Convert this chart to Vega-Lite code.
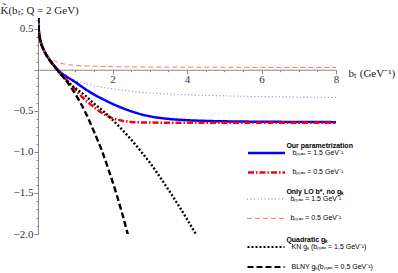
{
  "$schema": "https://vega.github.io/schema/vega-lite/v6.json",
  "width": 298,
  "height": 216,
  "autosize": {"type": "none"},
  "padding": {"left": 38, "top": 18, "right": 62, "bottom": 39},
  "background": "white",
  "config": {
    "view": {"stroke": null},
    "axis": {"grid": false, "domainColor": "#888888", "tickColor": "#888888", "labelColor": "#333333", "labelFont": "Liberation Serif", "labelFontSize": 11, "titleFont": "Liberation Serif", "titleFontSize": 11, "titleFontWeight": "normal", "titleColor": "#222222"},
    "legend": {"orient": "none", "symbolType": "stroke", "symbolSize": 1369, "clipHeight": 9, "titlePadding": 0, "labelOffset": 6, "padding": 0, "labelFont": "Liberation Sans", "labelFontSize": 7, "labelColor": "black", "titleFont": "Liberation Sans", "titleFontSize": 7, "titleFontWeight": "bold", "titleColor": "black", "titleLimit": 300, "labelLimit": 300}
  },
  "datasets": {
    "param": [
      {"series": "bₘₐₓ = 1.5 GeV⁻¹", "b": 0.004, "K": 0.645},
      {"series": "bₘₐₓ = 1.5 GeV⁻¹", "b": 0.01, "K": 0.56},
      {"series": "bₘₐₓ = 1.5 GeV⁻¹", "b": 0.02, "K": 0.49},
      {"series": "bₘₐₓ = 1.5 GeV⁻¹", "b": 0.04, "K": 0.41},
      {"series": "bₘₐₓ = 1.5 GeV⁻¹", "b": 0.07, "K": 0.345},
      {"series": "bₘₐₓ = 1.5 GeV⁻¹", "b": 0.1, "K": 0.3},
      {"series": "bₘₐₓ = 1.5 GeV⁻¹", "b": 0.15, "K": 0.245},
      {"series": "bₘₐₓ = 1.5 GeV⁻¹", "b": 0.2, "K": 0.2},
      {"series": "bₘₐₓ = 1.5 GeV⁻¹", "b": 0.3, "K": 0.13},
      {"series": "bₘₐₓ = 1.5 GeV⁻¹", "b": 0.4, "K": 0.07},
      {"series": "bₘₐₓ = 1.5 GeV⁻¹", "b": 0.5, "K": 0.015},
      {"series": "bₘₐₓ = 1.5 GeV⁻¹", "b": 0.6, "K": -0.03},
      {"series": "bₘₐₓ = 1.5 GeV⁻¹", "b": 0.75, "K": -0.078},
      {"series": "bₘₐₓ = 1.5 GeV⁻¹", "b": 1.0, "K": -0.15},
      {"series": "bₘₐₓ = 1.5 GeV⁻¹", "b": 1.25, "K": -0.23},
      {"series": "bₘₐₓ = 1.5 GeV⁻¹", "b": 1.5, "K": -0.3},
      {"series": "bₘₐₓ = 1.5 GeV⁻¹", "b": 1.75, "K": -0.36},
      {"series": "bₘₐₓ = 1.5 GeV⁻¹", "b": 2.0, "K": -0.415},
      {"series": "bₘₐₓ = 1.5 GeV⁻¹", "b": 2.25, "K": -0.463},
      {"series": "bₘₐₓ = 1.5 GeV⁻¹", "b": 2.5, "K": -0.505},
      {"series": "bₘₐₓ = 1.5 GeV⁻¹", "b": 2.75, "K": -0.54},
      {"series": "bₘₐₓ = 1.5 GeV⁻¹", "b": 3.0, "K": -0.567},
      {"series": "bₘₐₓ = 1.5 GeV⁻¹", "b": 3.5, "K": -0.598},
      {"series": "bₘₐₓ = 1.5 GeV⁻¹", "b": 4.0, "K": -0.614},
      {"series": "bₘₐₓ = 1.5 GeV⁻¹", "b": 4.5, "K": -0.623},
      {"series": "bₘₐₓ = 1.5 GeV⁻¹", "b": 5.0, "K": -0.628},
      {"series": "bₘₐₓ = 1.5 GeV⁻¹", "b": 6.0, "K": -0.633},
      {"series": "bₘₐₓ = 1.5 GeV⁻¹", "b": 7.0, "K": -0.636},
      {"series": "bₘₐₓ = 1.5 GeV⁻¹", "b": 8.0, "K": -0.638},
      {"series": "bₘₐₓ = 0.5 GeV⁻¹", "b": 0.004, "K": 0.645},
      {"series": "bₘₐₓ = 0.5 GeV⁻¹", "b": 0.01, "K": 0.56},
      {"series": "bₘₐₓ = 0.5 GeV⁻¹", "b": 0.02, "K": 0.49},
      {"series": "bₘₐₓ = 0.5 GeV⁻¹", "b": 0.04, "K": 0.41},
      {"series": "bₘₐₓ = 0.5 GeV⁻¹", "b": 0.07, "K": 0.345},
      {"series": "bₘₐₓ = 0.5 GeV⁻¹", "b": 0.1, "K": 0.3},
      {"series": "bₘₐₓ = 0.5 GeV⁻¹", "b": 0.15, "K": 0.245},
      {"series": "bₘₐₓ = 0.5 GeV⁻¹", "b": 0.2, "K": 0.2},
      {"series": "bₘₐₓ = 0.5 GeV⁻¹", "b": 0.3, "K": 0.13},
      {"series": "bₘₐₓ = 0.5 GeV⁻¹", "b": 0.4, "K": 0.065},
      {"series": "bₘₐₓ = 0.5 GeV⁻¹", "b": 0.5, "K": 0.01},
      {"series": "bₘₐₓ = 0.5 GeV⁻¹", "b": 0.6, "K": -0.04},
      {"series": "bₘₐₓ = 0.5 GeV⁻¹", "b": 0.77, "K": -0.125},
      {"series": "bₘₐₓ = 0.5 GeV⁻¹", "b": 1.0, "K": -0.24},
      {"series": "bₘₐₓ = 0.5 GeV⁻¹", "b": 1.17, "K": -0.325},
      {"series": "bₘₐₓ = 0.5 GeV⁻¹", "b": 1.35, "K": -0.4},
      {"series": "bₘₐₓ = 0.5 GeV⁻¹", "b": 1.53, "K": -0.465},
      {"series": "bₘₐₓ = 0.5 GeV⁻¹", "b": 1.75, "K": -0.535},
      {"series": "bₘₐₓ = 0.5 GeV⁻¹", "b": 2.0, "K": -0.59},
      {"series": "bₘₐₓ = 0.5 GeV⁻¹", "b": 2.25, "K": -0.62},
      {"series": "bₘₐₓ = 0.5 GeV⁻¹", "b": 2.5, "K": -0.635},
      {"series": "bₘₐₓ = 0.5 GeV⁻¹", "b": 2.87, "K": -0.642},
      {"series": "bₘₐₓ = 0.5 GeV⁻¹", "b": 3.5, "K": -0.645},
      {"series": "bₘₐₓ = 0.5 GeV⁻¹", "b": 5.0, "K": -0.646},
      {"series": "bₘₐₓ = 0.5 GeV⁻¹", "b": 8.0, "K": -0.646}
    ],
    "lo": [
      {"series": "bₘₐₓ = 1.5 GeV⁻¹", "b": 0.004, "K": 0.645},
      {"series": "bₘₐₓ = 1.5 GeV⁻¹", "b": 0.01, "K": 0.56},
      {"series": "bₘₐₓ = 1.5 GeV⁻¹", "b": 0.02, "K": 0.49},
      {"series": "bₘₐₓ = 1.5 GeV⁻¹", "b": 0.04, "K": 0.41},
      {"series": "bₘₐₓ = 1.5 GeV⁻¹", "b": 0.07, "K": 0.345},
      {"series": "bₘₐₓ = 1.5 GeV⁻¹", "b": 0.1, "K": 0.3},
      {"series": "bₘₐₓ = 1.5 GeV⁻¹", "b": 0.15, "K": 0.245},
      {"series": "bₘₐₓ = 1.5 GeV⁻¹", "b": 0.2, "K": 0.2},
      {"series": "bₘₐₓ = 1.5 GeV⁻¹", "b": 0.3, "K": 0.135},
      {"series": "bₘₐₓ = 1.5 GeV⁻¹", "b": 0.4, "K": 0.08},
      {"series": "bₘₐₓ = 1.5 GeV⁻¹", "b": 0.5, "K": 0.03},
      {"series": "bₘₐₓ = 1.5 GeV⁻¹", "b": 0.6, "K": -0.015},
      {"series": "bₘₐₓ = 1.5 GeV⁻¹", "b": 0.72, "K": -0.06},
      {"series": "bₘₐₓ = 1.5 GeV⁻¹", "b": 0.85, "K": -0.095},
      {"series": "bₘₐₓ = 1.5 GeV⁻¹", "b": 1.0, "K": -0.13},
      {"series": "bₘₐₓ = 1.5 GeV⁻¹", "b": 1.2, "K": -0.16},
      {"series": "bₘₐₓ = 1.5 GeV⁻¹", "b": 1.35, "K": -0.178},
      {"series": "bₘₐₓ = 1.5 GeV⁻¹", "b": 1.5, "K": -0.195},
      {"series": "bₘₐₓ = 1.5 GeV⁻¹", "b": 1.75, "K": -0.215},
      {"series": "bₘₐₓ = 1.5 GeV⁻¹", "b": 2.0, "K": -0.232},
      {"series": "bₘₐₓ = 1.5 GeV⁻¹", "b": 2.4, "K": -0.256},
      {"series": "bₘₐₓ = 1.5 GeV⁻¹", "b": 2.83, "K": -0.276},
      {"series": "bₘₐₓ = 1.5 GeV⁻¹", "b": 3.3, "K": -0.291},
      {"series": "bₘₐₓ = 1.5 GeV⁻¹", "b": 4.0, "K": -0.305},
      {"series": "bₘₐₓ = 1.5 GeV⁻¹", "b": 5.0, "K": -0.318},
      {"series": "bₘₐₓ = 1.5 GeV⁻¹", "b": 6.0, "K": -0.327},
      {"series": "bₘₐₓ = 1.5 GeV⁻¹", "b": 7.0, "K": -0.333},
      {"series": "bₘₐₓ = 1.5 GeV⁻¹", "b": 8.0, "K": -0.337},
      {"series": "bₘₐₓ = 0.5 GeV⁻¹", "b": 0.004, "K": 0.645},
      {"series": "bₘₐₓ = 0.5 GeV⁻¹", "b": 0.01, "K": 0.56},
      {"series": "bₘₐₓ = 0.5 GeV⁻¹", "b": 0.02, "K": 0.49},
      {"series": "bₘₐₓ = 0.5 GeV⁻¹", "b": 0.04, "K": 0.41},
      {"series": "bₘₐₓ = 0.5 GeV⁻¹", "b": 0.07, "K": 0.345},
      {"series": "bₘₐₓ = 0.5 GeV⁻¹", "b": 0.1, "K": 0.3},
      {"series": "bₘₐₓ = 0.5 GeV⁻¹", "b": 0.15, "K": 0.247},
      {"series": "bₘₐₓ = 0.5 GeV⁻¹", "b": 0.2, "K": 0.205},
      {"series": "bₘₐₓ = 0.5 GeV⁻¹", "b": 0.25, "K": 0.175},
      {"series": "bₘₐₓ = 0.5 GeV⁻¹", "b": 0.3, "K": 0.155},
      {"series": "bₘₐₓ = 0.5 GeV⁻¹", "b": 0.35, "K": 0.135},
      {"series": "bₘₐₓ = 0.5 GeV⁻¹", "b": 0.43, "K": 0.112},
      {"series": "bₘₐₓ = 0.5 GeV⁻¹", "b": 0.52, "K": 0.093},
      {"series": "bₘₐₓ = 0.5 GeV⁻¹", "b": 0.6, "K": 0.082},
      {"series": "bₘₐₓ = 0.5 GeV⁻¹", "b": 0.7, "K": 0.07},
      {"series": "bₘₐₓ = 0.5 GeV⁻¹", "b": 0.83, "K": 0.06},
      {"series": "bₘₐₓ = 0.5 GeV⁻¹", "b": 1.0, "K": 0.053},
      {"series": "bₘₐₓ = 0.5 GeV⁻¹", "b": 1.13, "K": 0.049},
      {"series": "bₘₐₓ = 0.5 GeV⁻¹", "b": 1.5, "K": 0.043},
      {"series": "bₘₐₓ = 0.5 GeV⁻¹", "b": 2.0, "K": 0.038},
      {"series": "bₘₐₓ = 0.5 GeV⁻¹", "b": 3.0, "K": 0.033},
      {"series": "bₘₐₓ = 0.5 GeV⁻¹", "b": 4.0, "K": 0.031},
      {"series": "bₘₐₓ = 0.5 GeV⁻¹", "b": 6.0, "K": 0.029},
      {"series": "bₘₐₓ = 0.5 GeV⁻¹", "b": 8.0, "K": 0.028}
    ],
    "quad": [
      {"series": "KN gₖ (bₘₐₓ = 1.5 GeV⁻¹)", "b": 0.004, "K": 0.645},
      {"series": "KN gₖ (bₘₐₓ = 1.5 GeV⁻¹)", "b": 0.01, "K": 0.56},
      {"series": "KN gₖ (bₘₐₓ = 1.5 GeV⁻¹)", "b": 0.02, "K": 0.49},
      {"series": "KN gₖ (bₘₐₓ = 1.5 GeV⁻¹)", "b": 0.04, "K": 0.41},
      {"series": "KN gₖ (bₘₐₓ = 1.5 GeV⁻¹)", "b": 0.07, "K": 0.345},
      {"series": "KN gₖ (bₘₐₓ = 1.5 GeV⁻¹)", "b": 0.1, "K": 0.3},
      {"series": "KN gₖ (bₘₐₓ = 1.5 GeV⁻¹)", "b": 0.15, "K": 0.245},
      {"series": "KN gₖ (bₘₐₓ = 1.5 GeV⁻¹)", "b": 0.2, "K": 0.2},
      {"series": "KN gₖ (bₘₐₓ = 1.5 GeV⁻¹)", "b": 0.3, "K": 0.127},
      {"series": "KN gₖ (bₘₐₓ = 1.5 GeV⁻¹)", "b": 0.4, "K": 0.065},
      {"series": "KN gₖ (bₘₐₓ = 1.5 GeV⁻¹)", "b": 0.5, "K": 0.007},
      {"series": "KN gₖ (bₘₐₓ = 1.5 GeV⁻¹)", "b": 0.6, "K": -0.049},
      {"series": "KN gₖ (bₘₐₓ = 1.5 GeV⁻¹)", "b": 0.75, "K": -0.125},
      {"series": "KN gₖ (bₘₐₓ = 1.5 GeV⁻¹)", "b": 1.0, "K": -0.224},
      {"series": "KN gₖ (bₘₐₓ = 1.5 GeV⁻¹)", "b": 1.25, "K": -0.307},
      {"series": "KN gₖ (bₘₐₓ = 1.5 GeV⁻¹)", "b": 1.5, "K": -0.41},
      {"series": "KN gₖ (bₘₐₓ = 1.5 GeV⁻¹)", "b": 1.75, "K": -0.503},
      {"series": "KN gₖ (bₘₐₓ = 1.5 GeV⁻¹)", "b": 2.0, "K": -0.61},
      {"series": "KN gₖ (bₘₐₓ = 1.5 GeV⁻¹)", "b": 2.25, "K": -0.725},
      {"series": "KN gₖ (bₘₐₓ = 1.5 GeV⁻¹)", "b": 2.5, "K": -0.85},
      {"series": "KN gₖ (bₘₐₓ = 1.5 GeV⁻¹)", "b": 2.75, "K": -0.986},
      {"series": "KN gₖ (bₘₐₓ = 1.5 GeV⁻¹)", "b": 3.0, "K": -1.13},
      {"series": "KN gₖ (bₘₐₓ = 1.5 GeV⁻¹)", "b": 3.25, "K": -1.29},
      {"series": "KN gₖ (bₘₐₓ = 1.5 GeV⁻¹)", "b": 3.5, "K": -1.46},
      {"series": "KN gₖ (bₘₐₓ = 1.5 GeV⁻¹)", "b": 3.75, "K": -1.635},
      {"series": "KN gₖ (bₘₐₓ = 1.5 GeV⁻¹)", "b": 4.0, "K": -1.82},
      {"series": "KN gₖ (bₘₐₓ = 1.5 GeV⁻¹)", "b": 4.25, "K": -2.01},
      {"series": "BLNY gₖ(bₘₐₓ = 0.5 GeV⁻¹)", "b": 0.004, "K": 0.645},
      {"series": "BLNY gₖ(bₘₐₓ = 0.5 GeV⁻¹)", "b": 0.01, "K": 0.56},
      {"series": "BLNY gₖ(bₘₐₓ = 0.5 GeV⁻¹)", "b": 0.02, "K": 0.49},
      {"series": "BLNY gₖ(bₘₐₓ = 0.5 GeV⁻¹)", "b": 0.04, "K": 0.41},
      {"series": "BLNY gₖ(bₘₐₓ = 0.5 GeV⁻¹)", "b": 0.07, "K": 0.345},
      {"series": "BLNY gₖ(bₘₐₓ = 0.5 GeV⁻¹)", "b": 0.1, "K": 0.3},
      {"series": "BLNY gₖ(bₘₐₓ = 0.5 GeV⁻¹)", "b": 0.15, "K": 0.245},
      {"series": "BLNY gₖ(bₘₐₓ = 0.5 GeV⁻¹)", "b": 0.2, "K": 0.2},
      {"series": "BLNY gₖ(bₘₐₓ = 0.5 GeV⁻¹)", "b": 0.3, "K": 0.12},
      {"series": "BLNY gₖ(bₘₐₓ = 0.5 GeV⁻¹)", "b": 0.4, "K": 0.064},
      {"series": "BLNY gₖ(bₘₐₓ = 0.5 GeV⁻¹)", "b": 0.5, "K": 0.008},
      {"series": "BLNY gₖ(bₘₐₓ = 0.5 GeV⁻¹)", "b": 0.6, "K": -0.046},
      {"series": "BLNY gₖ(bₘₐₓ = 0.5 GeV⁻¹)", "b": 0.75, "K": -0.129},
      {"series": "BLNY gₖ(bₘₐₓ = 0.5 GeV⁻¹)", "b": 1.0, "K": -0.295},
      {"series": "BLNY gₖ(bₘₐₓ = 0.5 GeV⁻¹)", "b": 1.25, "K": -0.498},
      {"series": "BLNY gₖ(bₘₐₓ = 0.5 GeV⁻¹)", "b": 1.5, "K": -0.75},
      {"series": "BLNY gₖ(bₘₐₓ = 0.5 GeV⁻¹)", "b": 1.71, "K": -0.98},
      {"series": "BLNY gₖ(bₘₐₓ = 0.5 GeV⁻¹)", "b": 1.9, "K": -1.224},
      {"series": "BLNY gₖ(bₘₐₓ = 0.5 GeV⁻¹)", "b": 2.1, "K": -1.504},
      {"series": "BLNY gₖ(bₘₐₓ = 0.5 GeV⁻¹)", "b": 2.25, "K": -1.735},
      {"series": "BLNY gₖ(bₘₐₓ = 0.5 GeV⁻¹)", "b": 2.42, "K": -2.02}
    ]
  },
  "encoding": {
    "x": {
      "field": "b", "type": "quantitative",
      "scale": {"domain": [0, 8], "nice": false, "zero": false},
      "axis": {
        "values": [0.5, 1, 1.5, 2, 2.5, 3, 3.5, 4, 4.5, 5, 5.5, 6, 6.5, 7, 7.5, 8],
        "labelExpr": "datum.value % 2 == 0 ? format(datum.value, 'd') : ''",
        "tickSize": {"condition": {"test": "datum.value % 2 == 0", "value": 4}, "value": 2},
        "offset": -164.26,
        "labelPadding": 0,
        "labelOverlap": false,
        "labelFlush": false,
        "title": "bₜ (GeV⁻¹)",
        "titleAngle": 0,
        "titleX": 310,
        "titleY": 3.5,
        "titleAlign": "left",
        "titleBaseline": "middle"
      }
    },
    "y": {
      "field": "K", "type": "quantitative",
      "scale": {"domain": [-2, 0.63], "nice": false, "zero": false},
      "axis": {
        "values": [-2, -1.9, -1.8, -1.7, -1.6, -1.5, -1.4, -1.3, -1.2, -1.1, -1, -0.9, -0.8, -0.7, -0.6, -0.5, -0.4, -0.3, -0.2, -0.1, 0, 0.1, 0.2, 0.3, 0.4, 0.5, 0.6],
        "labelExpr": "(abs(datum.value*2 - round(datum.value*2)) < 0.01 && abs(datum.value) > 0.01) ? format(datum.value, '.1f') : ''",
        "tickSize": {"condition": {"test": "abs(datum.value*2 - round(datum.value*2)) < 0.01", "value": 4}, "value": 2},
        "labelPadding": 1,
        "labelOverlap": false,
        "labelFlush": false,
        "title": "K̃(bₜ; Q = 2 GeV)",
        "titleAngle": 0,
        "titleX": -38,
        "titleY": -8,
        "titleAlign": "left",
        "titleBaseline": "middle"
      }
    }
  },
  "layer": [
    {
      "data": {"name": "param"},
      "mark": {"type": "line", "clip": true, "interpolate": "monotone", "strokeWidth": 2.5},
      "encoding": {
        "color": {"field": "series", "type": "nominal",
          "scale": {"domain": ["bₘₐₓ = 1.5 GeV⁻¹", "bₘₐₓ = 0.5 GeV⁻¹"], "range": ["#0000ff", "#ff0000"]},
          "legend": {"title": "\u200b\u2003\u2003\u2003\u2003\u2003\u2002\u2009Our parametrization", "legendX": 208.5, "legendY": 123.5, "rowPadding": 10.4, "symbolStrokeWidth": 2.5}},
        "strokeDash": {"field": "series", "type": "nominal",
          "scale": {"domain": ["bₘₐₓ = 1.5 GeV⁻¹", "bₘₐₓ = 0.5 GeV⁻¹"], "range": [[1, 0], [6, 2, 1.5, 2]]},
          "legend": {"title": "\u200b\u2003\u2003\u2003\u2003\u2003\u2002\u2009Our parametrization", "legendX": 208.5, "legendY": 123.5, "rowPadding": 10.4, "symbolStrokeWidth": 2.5}}
      }
    },
    {
      "data": {"name": "lo"},
      "mark": {"type": "line", "clip": true, "interpolate": "monotone", "strokeWidth": 1},
      "encoding": {
        "color": {"field": "series", "type": "nominal",
          "scale": {"domain": ["bₘₐₓ = 1.5 GeV⁻¹", "bₘₐₓ = 0.5 GeV⁻¹"], "range": ["#6f6fff", "#ff7070"]},
          "legend": {"title": "\u200b\u2003\u2003\u2003\u2003\u2003\u2002\u2009Only LO b*, no gₖ", "legendX": 208.5, "legendY": 169.5, "rowPadding": 10.4, "symbolStrokeWidth": 1}},
        "strokeDash": {"field": "series", "type": "nominal",
          "scale": {"domain": ["bₘₐₓ = 1.5 GeV⁻¹", "bₘₐₓ = 0.5 GeV⁻¹"], "range": [[1, 2.5], [5, 3]]},
          "legend": {"title": "\u200b\u2003\u2003\u2003\u2003\u2003\u2002\u2009Only LO b*, no gₖ", "legendX": 208.5, "legendY": 169.5, "rowPadding": 10.4, "symbolStrokeWidth": 1}}
      }
    },
    {
      "data": {"name": "quad"},
      "mark": {"type": "line", "clip": true, "interpolate": "monotone", "strokeWidth": 2.4},
      "encoding": {
        "color": {"field": "series", "type": "nominal",
          "scale": {"domain": ["KN gₖ (bₘₐₓ = 1.5 GeV⁻¹)", "BLNY gₖ(bₘₐₓ = 0.5 GeV⁻¹)"], "range": ["#000000", "#000000"]},
          "legend": {"title": "\u200b\u2003\u2003\u2003\u2003\u2003\u2002\u2009Quadratic gₖ", "legendX": 208.5, "legendY": 217.5, "rowPadding": 11, "symbolStrokeWidth": 2}},
        "strokeDash": {"field": "series", "type": "nominal",
          "scale": {"domain": ["KN gₖ (bₘₐₓ = 1.5 GeV⁻¹)", "BLNY gₖ(bₘₐₓ = 0.5 GeV⁻¹)"], "range": [[2, 2], [6, 3]]},
          "legend": {"title": "\u200b\u2003\u2003\u2003\u2003\u2003\u2002\u2009Quadratic gₖ", "legendX": 208.5, "legendY": 217.5, "rowPadding": 11, "symbolStrokeWidth": 2}}
      }
    }
  ],
  "resolve": {"scale": {"color": "independent", "strokeDash": "independent"}}
}
